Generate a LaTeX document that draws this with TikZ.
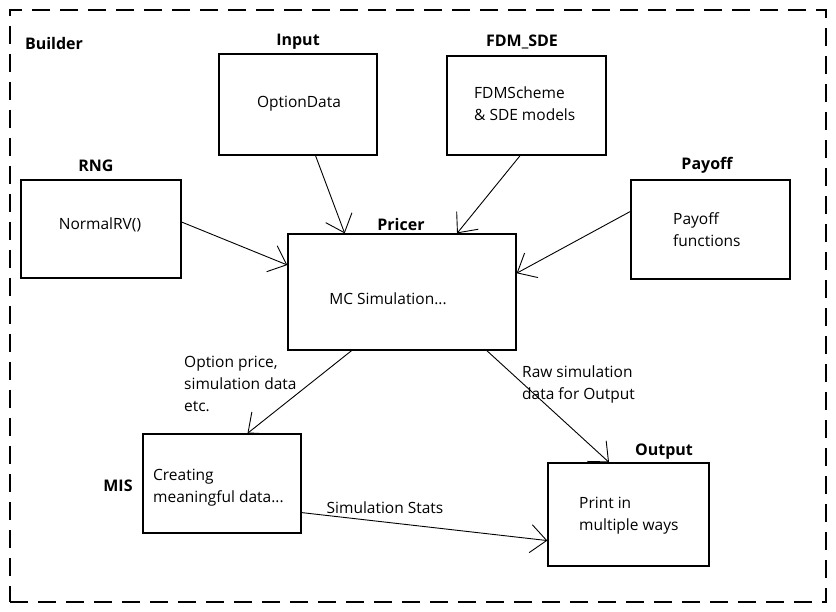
\documentclass[tikz,border=0pt]{standalone}
\usepackage{fontspec}
\setmainfont{Open Sans}
\usetikzlibrary{arrows.meta,calc}
\begin{document}
\begin{tikzpicture}[x=1pt,y=-1pt,
  every node/.style={font=\fontsize{15.5}{22}\selectfont, inner sep=0pt},
  box/.style={draw, line width=1.3pt, align=left},
  ttl/.style={font=\fontsize{16}{22}\selectfont\bfseries},
  lbl/.style={align=left, anchor=west},
  conn/.style={line width=0.9pt, -{Straight Barb[length=16pt,width=28pt,line width=0.9pt]}}]
\useasboundingbox (0,0) rectangle (836,612);
\node[draw, dash pattern=on 18pt off 10pt, line width=1.3pt, minimum width=816, minimum height=592] (builder) at (418,306) {};

\node[box, minimum width=158, minimum height=101] (input) at (298,104.5) {};
\node[box, minimum width=159, minimum height=99] (fdm) at (526.5,105.5) {};
\node[box, minimum width=160, minimum height=98] (rng) at (101,229) {};
\node[box, minimum width=159, minimum height=99] (payoff) at (710.5,229.5) {};
\node[box, minimum width=228, minimum height=116] (pricer) at (402,292) {};
\node[box, minimum width=158, minimum height=99] (mis) at (222,483.5) {};
\node[box, minimum width=161, minimum height=103] (output) at (628.5,514.5) {};

\begin{scope}[yshift=-2.5pt]
\node[ttl] (builderlbl) at (54,41) {Builder};
\node (inputtxt) at (299,101) {OptionData};
\node[ttl] (inputlbl) at (298,39) {Input};
\node[lbl] (fdmtxt) at (474,101) {FDMScheme\\\& SDE models};
\node[ttl] (fdmlbl) at (522,39) {FDM\_SDE};
\node (rngtxt) at (100,222) {NormalRV()};
\node[ttl] (rnglbl) at (96,163) {RNG};
\node[lbl] (payofftxt) at (673,227) {Payoff\\functions};
\node[ttl] (payofflbl) at (707,163) {Payoff};
\node (pricertxt) at (388,296) {MC Simulation...};
\node[ttl] (pricerlbl) at (401,222) {Pricer};
\node[lbl] (mistxt) at (153,485) {Creating\\meaningful data...};
\node[ttl] (mislbl) at (118,483) {MIS};
\node[lbl] (outputtxt) at (579,513) {Print in\\multiple ways};
\node[ttl] (outputlbl) at (664,449) {Output};
\node[lbl] (lbl1) at (184,381) {Option price,\\simulation data\\etc.};
\node[lbl] (lbl2) at (522,382) {Raw simulation\\data for Output};
\node (lbl3) at (385,505) {Simulation Stats};
\end{scope}

\draw[conn] ($(input.south west)!0.61!(input.south east)$) -- ($(pricer.north west)!0.25!(pricer.north east)$);
\draw[conn] ($(fdm.south west)!0.46!(fdm.south east)$) -- ($(pricer.north west)!0.74!(pricer.north east)$);
\draw[conn] ($(rng.north east)!0.43!(rng.south east)$) -- ($(pricer.north west)!0.27!(pricer.south west)$);
\draw[conn] ($(payoff.north west)!0.32!(payoff.south west)$) -- ($(pricer.north east)!0.34!(pricer.south east)$);
\draw[conn] ($(pricer.south west)!0.28!(pricer.south east)$) -- ($(mis.north west)!0.66!(mis.north east)$);
\draw[conn] ($(pricer.south west)!0.87!(pricer.south east)$) -- ($(output.north west)!0.38!(output.north east)$);
\draw[conn] ($(mis.north east)!0.79!(mis.south east)$) -- ($(output.north west)!0.75!(output.south west)$);
\end{tikzpicture}
\end{document}
